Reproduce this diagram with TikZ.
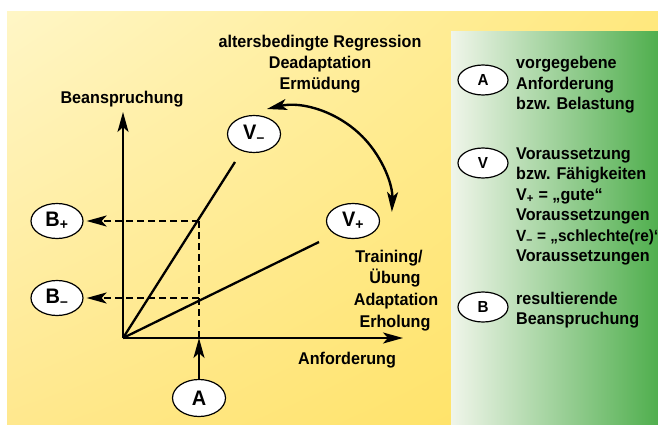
\documentclass[tikz,border=0pt]{standalone}
\usepackage{fontspec}
\setmainfont{Liberation Sans}[FakeStretch=0.95]
\usetikzlibrary{arrows.meta,shapes.geometric,shadings}
\definecolor{ylTL}{HTML}{FFF6C6}
\definecolor{ylTR}{HTML}{FFE87E}
\definecolor{ylBL}{HTML}{FFE88E}
\definecolor{ylBR}{HTML}{FFE15A}
\definecolor{grL}{HTML}{F0F5EA}
\definecolor{grR}{HTML}{50AF4E}
\tikzset{
  lbl/.style={anchor=base,inner sep=0pt,font=\fontsize{17}{20}\selectfont\bfseries},
  lgd/.style={anchor=base west,inner sep=0pt,font=\fontsize{17}{20}\selectfont\bfseries},
  ell/.style={ellipse,draw=black,line width=1.2pt,fill=white,inner sep=0pt,
    minimum width=53pt,minimum height=37pt,font=\fontsize{21}{24}\selectfont\bfseries},
  lell/.style={ellipse,draw=black,line width=1.2pt,fill=white,inner sep=0pt,
    minimum width=50pt,minimum height=30pt,font=\fontsize{16}{18}\selectfont\bfseries},
  thick line/.style={line width=2.3pt},
  dashline/.style={line width=2.3pt,dash pattern=on 7pt off 4pt},
  arr/.style={-{Stealth[length=20pt,width=11pt,inset=5pt]}},
  darr/.style={{Stealth[length=20pt,width=11pt,inset=5pt]}-{Stealth[length=20pt,width=11pt,inset=5pt]}},
}
\begin{document}
\begin{tikzpicture}[x=1pt,y=-1pt]
\useasboundingbox (0,0) rectangle (658,425);
% backgrounds
\shade[upper left=ylTL,upper right=ylTR,lower left=ylBL,lower right=ylBR] (7,12) rectangle (658,425);
\shade[left color=grL,right color=grR] (451,32) rectangle (658,425);

% axes
\coordinate (O) at (123,338);
\coordinate (ytip) at (123,112);
\coordinate (xtip) at (403,338);
\draw[thick line,arr] (O) -- (ytip);
\draw[thick line,arr] (O) -- (xtip);

% V lines
\coordinate (VmEnd) at (235,162);
\coordinate (VpEnd) at (319,242);
\draw[thick line] (O) -- (VmEnd);
\draw[thick line] (O) -- (VpEnd);

% ellipses
\node[ell] (Vm) at (254,134) {V\textsubscript{–}};
\node[ell,minimum height=35pt] (Vp) at (353,221) {V\textsubscript{+}};
\node[ell,minimum width=52pt,minimum height=35pt] (Bp) at (57,221) {B\textsubscript{+}};
\node[ell,minimum width=52pt,minimum height=35pt] (Bm) at (57,298) {B\textsubscript{–}};
\node[ell] (A) at (199,398) {A};

% dashed construction
\coordinate (Pp) at (199,221);
\coordinate (Pm) at (199,298);
\coordinate (Px) at (199,338);
\draw[dashline] (Pp) -- (Px);
\draw[dashline,arr,shorten >=3pt] (Pp) -- (Bp.east);
\draw[dashline,arr,shorten >=3pt] (Pm) -- (Bm.east);
\draw[thick line,arr] (A.north) -- (Px);

% curved double arrow
\coordinate (arcS) at (267,109);
\draw[line width=2.4pt,darr] (arcS) arc[start angle=257,end angle=362,radius=102];

% labels
\node[lbl] (t1) at (320,48) {altersbedingte Regression};
\node[lbl] (t2) at (320,69) {Deadaptation};
\node[lbl] (t3) at (320,90) {Ermüdung};
\node[lbl] (yl) at (122,104) {Beanspruchung};
\node[lbl] (xl) at (347,364) {Anforderung};
\node[lbl] (r1) at (389,262) {Training/};
\node[lbl] (r2) at (395,283) {Übung};
\node[lbl] (r3) at (396,305) {Adaptation};
\node[lbl] (r4) at (395,327) {Erholung};

% legend
\node[lell] (LA) at (483,80) {A};
\node[lgd] (la1) at (516,69) {vorgegebene};
\node[lgd] (la2) at (516,89.5) {Anforderung};
\node[lgd] (la3) at (516,110) {bzw. Belastung};

\node[lell] (LV) at (483,163) {V};
\node[lgd] (lv1) at (516,159) {Voraussetzung};
\node[lgd] (lv2) at (516,179.5) {bzw. Fähigkeiten};
\node[lgd] (lv3) at (516,200) {V\textsubscript{+} = „gute“};
\node[lgd] (lv4) at (516,220.5) {Voraussetzungen};
\node[lgd,font=\fontsize{16.2}{20}\selectfont\bfseries] (lv5) at (516,241) {V\textsubscript{–} = „schlechte(re)“};
\node[lgd] (lv6) at (516,261.5) {Voraussetzungen};

\node[lell] (LB) at (483,307) {B};
\node[lgd] (lb1) at (516,304) {resultierende};
\node[lgd] (lb2) at (516,324.5) {Beanspruchung};
\end{tikzpicture}
\end{document}
